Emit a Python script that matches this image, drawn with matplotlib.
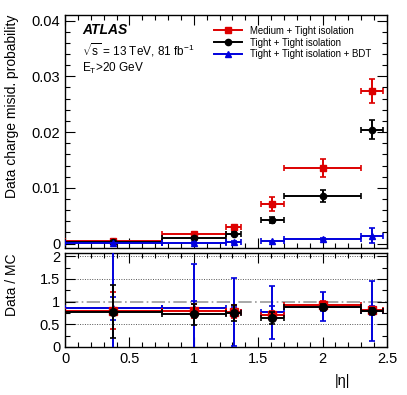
import numpy as np
import matplotlib
matplotlib.use("Agg")
import matplotlib.pyplot as plt
from matplotlib.lines import Line2D
from matplotlib.ticker import MultipleLocator

plt.rcParams['font.family'] = ['Liberation Sans', 'DejaVu Sans']
plt.rcParams['mathtext.fontset'] = 'custom'
plt.rcParams['mathtext.rm'] = 'Liberation Sans'
plt.rcParams['mathtext.it'] = 'Liberation Sans:italic'

# bins in |eta|
bin_edges = [0.0, 0.75, 1.25, 1.37, 1.52, 1.70, 2.30, 2.47]
bin_lo = [0.0, 0.75, 1.25, 1.52, 1.70, 2.30]
bin_hi = [0.75, 1.25, 1.37, 1.70, 2.30, 2.47]
bin_center = [0.375, 1.0, 1.31, 1.61, 2.0, 2.385]

labels = ["Medium + Tight isolation", "Tight + Tight isolation", "Tight + Tight isolation + BDT"]

# upper: misid probability
red_val = [0.0005, 0.0017, 0.0029, 0.0071, 0.0135, 0.0274]
red_err = [0.0001, 0.0002, 0.0003, 0.0012, 0.0016, 0.0022]
black_val = [0.0003, 0.00095, 0.0018, 0.0042, 0.0085, 0.0204]
black_err = [0.0001, 0.0002, 0.0003, 0.0006, 0.0011, 0.0017]
blue_val = [0.0001, 0.0001, 0.0003, 0.0004, 0.0008, 0.0014]
blue_err = [0.00005, 0.0001, 0.0002, 0.0001, 0.0002, 0.0013]

# lower: Data / MC
red_ratio = [0.80, 0.79, 0.78, 0.70, 0.93, 0.82]
red_ratio_err = [0.41, 0.15, 0.15, 0.10, 0.08, 0.05]
black_ratio = [0.78, 0.72, 0.75, 0.64, 0.88, 0.80]
black_ratio_err = [0.59, 0.23, 0.17, 0.13, 0.06, 0.06]
blue_ratio = [0.85, 0.85, 0.77, 0.76, 0.89, 0.80]
blue_ratio_err = [1.3, 0.98, 0.75, 0.58, 0.32, 0.66]
blue_ratio_err_inner = [0.26, 0.17, 0.10, 0.15, 0.10, 0.10]

RED = '#dd0000'
BLACK = '#000000'
BLUE = '#0000dd'

W, H = 407, 395
fig = plt.figure(figsize=(W / 100, H / 100), dpi=100)
ax1 = fig.add_axes([65 / W, 1 - 248 / H, 322 / W, 233 / H])
ax2 = fig.add_axes([65 / W, 1 - 347 / H, 322 / W, 94 / H])

xc = np.array(bin_center)
xlo = xc - np.array(bin_lo)
xhi = np.array(bin_hi) - xc


def draw(ax, y, yerr, color, marker, ms, z):
    ax.errorbar(xc, y, yerr=yerr, xerr=[xlo, xhi], fmt=marker, color=color,
                ms=ms, mec=color, mfc=color, elinewidth=1.4, capsize=2.2,
                capthick=1.2, zorder=z)


draw(ax1, red_val, red_err, RED, 's', 4.5, 3)
draw(ax1, black_val, black_err, BLACK, 'o', 4.5, 4)
draw(ax1, blue_val, blue_err, BLUE, '^', 4.0, 5)

draw(ax2, blue_ratio, blue_ratio_err, BLUE, '^', 4.0, 3)
ax2.errorbar(xc, blue_ratio, yerr=blue_ratio_err_inner, fmt='none', ecolor=BLUE,
             elinewidth=1.2, capsize=2.2, capthick=1.2, zorder=3)
draw(ax2, red_ratio, red_ratio_err, RED, 's', 5.5, 4)
draw(ax2, black_ratio, black_ratio_err, BLACK, 'o', 5.5, 5)

# reference lines
for yv in [0.5, 1.5, 2.0]:
    ax2.axhline(yv, color='#555555', lw=0.7, ls=(0, (1, 1.5)), zorder=1)
ax2.axhline(1.0, color='#999999', lw=1.2, ls=(0, (8, 2, 1, 2)), zorder=1)

ax1.set_xlim(0, 2.5)
ax1.set_ylim(-0.0008, 0.041)
ax2.set_xlim(0, 2.5)
ax2.set_ylim(0, 2.07)

for ax in (ax1, ax2):
    ax.xaxis.set_major_locator(MultipleLocator(0.5))
    ax.xaxis.set_minor_locator(MultipleLocator(0.1))
    ax.tick_params(which='both', direction='in', top=True, right=True, labelsize=10.5)
    ax.tick_params(which='major', length=7, width=0.8)
    ax.tick_params(which='minor', length=3.5, width=0.8)
    for s in ax.spines.values():
        s.set_linewidth(1.0)

ax1.yaxis.set_major_locator(MultipleLocator(0.01))
ax1.yaxis.set_minor_locator(MultipleLocator(0.002))
ax1.set_yticks([0, 0.01, 0.02, 0.03, 0.04])
ax1.set_yticklabels(['0', '0.01', '0.02', '0.03', '0.04'])
ax1.tick_params(labelbottom=False)
ax2.yaxis.set_major_locator(MultipleLocator(0.5))
ax2.yaxis.set_minor_locator(MultipleLocator(0.25))
ax2.set_yticks([0, 0.5, 1, 1.5, 2])
ax2.set_yticklabels(['0', '0.5', '1', '1.5', '2'])
ax2.set_xticks([0, 0.5, 1, 1.5, 2, 2.5])
ax2.set_xticklabels(['0', '0.5', '1', '1.5', '2', '2.5'])

ax1.set_ylabel("Data charge misid. probability", fontsize=10, ha='right', y=1.0)
ax1.yaxis.set_label_coords(-0.143, 1.0)
ax2.set_ylabel("Data / MC", fontsize=10, ha='right', y=1.0)
ax2.yaxis.set_label_coords(-0.143, 1.0)
ax2.set_xlabel("|η|", fontsize=10.5, ha='right')
ax2.xaxis.set_label_coords(0.885, -0.29)

# ATLAS labels
ax1.text(82 / W, 1 - 30 / H, "ATLAS", transform=fig.transFigure, fontsize=10,
         fontweight='bold', fontstyle='italic', va='center', ha='left')
ax1.text(82 / W, 1 - 50 / H, r"$\sqrt{\mathrm{s}}$ = 13 TeV, 81 fb$^{\mathrm{-1}}$",
         transform=fig.transFigure, fontsize=8.5, va='center', ha='left')
ax1.text(82 / W, 1 - 68 / H, r"E$_{\mathrm{T}}$>20 GeV",
         transform=fig.transFigure, fontsize=8.5, va='center', ha='left')

handles = [
    Line2D([], [], color=RED, marker='s', ms=4.5, lw=1.4),
    Line2D([], [], color=BLACK, marker='o', ms=4.5, lw=1.4),
    Line2D([], [], color=BLUE, marker='^', ms=4.0, lw=1.4),
]
leg = ax1.legend(handles, labels, loc='upper left', bbox_to_anchor=(0.45, 0.97),
                 frameon=False, fontsize=6.9, handlelength=3.0, handletextpad=0.8,
                 labelspacing=0.18, borderaxespad=0.0)

fig.savefig("out.png", dpi=100)
